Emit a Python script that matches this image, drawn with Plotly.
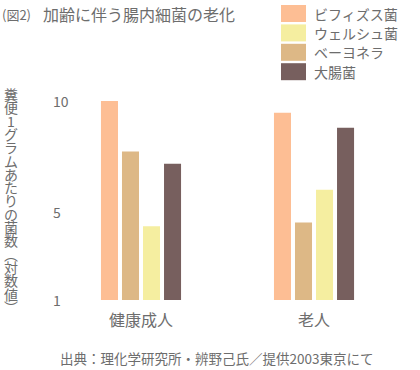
import plotly.graph_objects as go

# ---- data ----
categories = ["健康成人", "老人"]
bar_series = ["ビフィズス菌", "ベーヨネラ", "ウェルシュ菌", "大腸菌"]
bifidus = [10.0, 9.47]
bacteroides = [7.71, 4.51]
welchii = [4.33, 5.98]
ecoli = [7.16, 8.79]
legend_order = ["ビフィズス菌", "ウェルシュ菌", "ベーヨネラ", "大腸菌"]
tick_values = [1, 5, 10]
tick_labels = ["1", "5", "10"]
title_prefix = "(図2)"
title_main = "加齢に伴う腸内細菌の老化"
y_title = "糞便1グラムあたりの菌数︵対数値︶"
source_note = "出典：理化学研究所・辨野己氏／提供2003東京にて"

colors = {
    "ビフィズス菌": "#FDBE94",
    "ウェルシュ菌": "#F5EEA0",
    "ベーヨネラ": "#DDB886",
    "大腸菌": "#775F5E",
}
values = {
    "ビフィズス菌": bifidus,
    "ベーヨネラ": bacteroides,
    "ウェルシュ菌": welchii,
    "大腸菌": ecoli,
}

FONT = "Noto Sans CJK JP"
TXT = "#6d6d6d"
W, H = 420, 370
L, R, T, B = 50, 20, 95, 70
PW, PH = W - L - R, H - T - B


def px(x):
    return (x - L) / PW


def py(y):
    return (H - B - y) / PH


fig = go.Figure()
for name in bar_series:
    fig.add_trace(go.Bar(
        x=categories, y=values[name], name=name,
        marker=dict(color=colors[name], line=dict(width=0)),
        showlegend=False,
    ))

shapes = []
annotations = []

# manual legend (large swatches)
for i, name in enumerate(legend_order):
    top = 5 + i * 19.4
    shapes.append(dict(type="rect", xref="paper", yref="paper",
                       x0=px(281), x1=px(306), y0=py(top + 17), y1=py(top),
                       fillcolor=colors[name], line=dict(width=0)))
    annotations.append(dict(xref="paper", yref="paper", x=px(312), y=py(top + 8.5),
                            text=name, showarrow=False, xanchor="left", yanchor="middle",
                            font=dict(family=FONT, size=14, color=TXT)))

# title
annotations.append(dict(xref="paper", yref="paper", x=px(0), y=py(14),
                        text=title_prefix, showarrow=False, xanchor="left", yanchor="middle",
                        font=dict(family=FONT, size=13, color=TXT)))
annotations.append(dict(xref="paper", yref="paper", x=px(41), y=py(14),
                        text=title_main, showarrow=False, xanchor="left", yanchor="middle",
                        font=dict(family=FONT, size=16, color=TXT)))

# vertical y-axis title, one character per line
for i, ch in enumerate(y_title):
    annotations.append(dict(xref="paper", yref="paper", x=px(11), y=py(94 + i * 13.3),
                            text=ch, showarrow=False, xanchor="center", yanchor="middle",
                            font=dict(family=FONT, size=14, color=TXT)))

# y tick labels (left-aligned, as in the reference)
for v, t in zip(tick_values, tick_labels):
    annotations.append(dict(xref="paper", yref="y", x=px(51), y=v,
                            text=t, showarrow=False, xanchor="left", yanchor="middle",
                            font=dict(family=FONT, size=14, color=TXT)))

# source note
annotations.append(dict(xref="paper", yref="paper", x=px(216), y=py(358),
                        text=source_note, showarrow=False, xanchor="center", yanchor="middle",
                        font=dict(family=FONT, size=13.5, color=TXT)))

fig.update_layout(
    width=W, height=H,
    margin=dict(l=L, r=R, t=T, b=B, pad=0),
    paper_bgcolor="white", plot_bgcolor="white",
    barmode="group", bargap=0.514, bargroupgap=0.19,
    font=dict(family=FONT, color=TXT),
    shapes=shapes, annotations=annotations,
    xaxis=dict(range=[-0.526, 1.497], showgrid=False, zeroline=False, showline=False,
               ticks="", tickfont=dict(size=16, color=TXT), ticklabelstandoff=9,
               fixedrange=True, automargin=False),
    yaxis=dict(range=[1, 10.27], showticklabels=False,
               showgrid=False, zeroline=False, showline=False, ticks="",
               fixedrange=True, automargin=False),
)

fig.write_html("out.html", config={"displayModeBar": False},
               post_script="document.body.style.margin='0';document.body.style.overflow='hidden';")
